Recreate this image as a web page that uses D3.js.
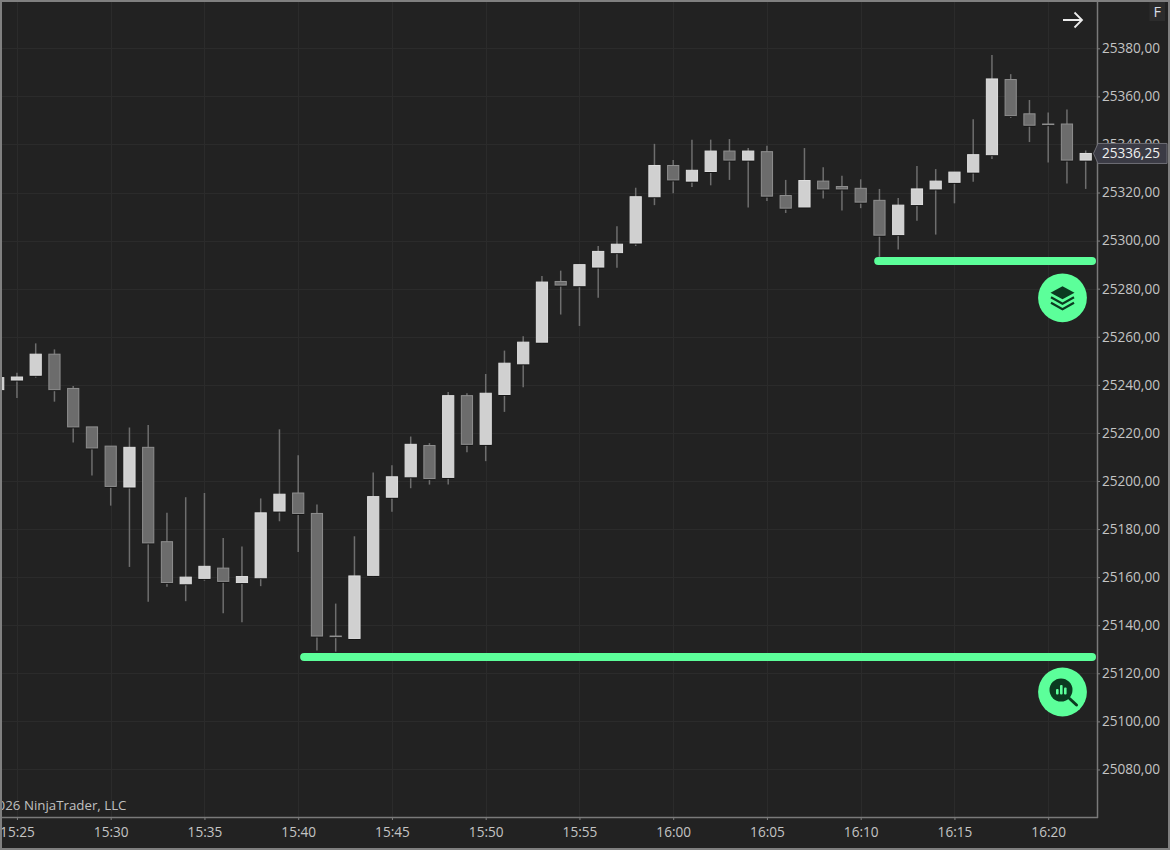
<!DOCTYPE html>
<html><head><meta charset="utf-8">
<style>html,body{margin:0;padding:0;background:#222;overflow:hidden}svg{display:block}text{font-family:"Open Sans","Noto Sans",sans-serif}</style>
<script src="https://cdn.jsdelivr.net/npm/d3@7"></script></head><body>
<script>
const times=["15:24","15:25","15:26","15:27","15:28","15:29","15:30","15:31","15:32","15:33","15:34","15:35","15:36","15:37","15:38","15:39","15:40","15:41","15:42","15:43","15:44","15:45","15:46","15:47","15:48","15:49","15:50","15:51","15:52","15:53","15:54","15:55","15:56","15:57","15:58","15:59","16:00","16:01","16:02","16:03","16:04","16:05","16:06","16:07","16:08","16:09","16:10","16:11","16:12","16:13","16:14","16:15","16:16","16:17","16:18","16:19","16:20","16:21","16:22"];
const opens=[25238,25242,25244,25252.75,25238.5,25222.5,25214.5,25197.5,25214,25174.75,25157.25,25159.5,25163.75,25157.75,25159.75,25187.5,25195,25186.5,25135.5,25134.5,25160.75,25193.25,25201.75,25214.75,25201.5,25235.5,25215.25,25236,25248.75,25257.75,25283,25281.25,25289,25295,25299,25318.25,25331.25,25324.75,25328.75,25337.25,25333.5,25337,25318.75,25314,25324.75,25322.5,25321.75,25316.75,25302.5,25315,25321.5,25324.25,25328.5,25335.75,25367,25352.75,25348.5,25348.5,25333.5];
const highs=[25244,25245,25257.25,25254.75,25239.5,25222.5,25214.5,25222.25,25223.25,25186.75,25193.25,25195,25176.25,25172.75,25192.75,25221.5,25210.75,25190.25,25149,25177,25203.5,25206.5,25218.5,25215.75,25237,25236.5,25244.5,25254.25,25260.25,25285.25,25287.5,25290,25297.75,25306,25322,25340.25,25333.5,25342,25342,25342.25,25338.5,25339.5,25325.25,25338.5,25330.5,25327,25325.5,25321.5,25317.75,25331,25329.75,25328.5,25350.5,25377.25,25369.25,25358.5,25353.25,25354.5,25337.5];
const lows=[25236,25234.5,25243,25233,25216,25202.25,25189.75,25164.25,25149.75,25156,25150,25158.5,25145,25141.25,25156.25,25183.25,25170.5,25129.5,25129,25134,25160.25,25187.25,25197,25198.5,25198.5,25212,25208.25,25228.75,25239,25257.25,25269.25,25264.5,25276.25,25288.75,25297.75,25314.75,25319.75,25322.25,25323,25325.25,25313.75,25316.5,25311.5,25314,25317.5,25312.5,25313.5,25293.25,25296.25,25308.25,25302.5,25315.5,25324.5,25334,25351,25341,25332.5,25323.75,25321.5];
const closes=[25243,25243.25,25252.75,25238,25222.5,25213.75,25197.75,25214,25174.25,25157.75,25160,25164.5,25158.25,25160.25,25186.75,25194.5,25186.5,25135.5,25135.25,25160.5,25193.5,25201.75,25215.25,25201,25235.5,25215.25,25236.5,25249,25257.75,25282.75,25281.5,25290,25295.5,25298.5,25318.25,25331.25,25325.25,25329.25,25337.25,25333.5,25337.25,25318.5,25313.5,25325,25321.5,25321.5,25316,25302.25,25314.75,25321.5,25324.75,25328.5,25335.75,25367.25,25352,25348,25348.25,25333.5,25336.25];
const priceTicks=[25080,25100,25120,25140,25160,25180,25200,25220,25240,25260,25280,25300,25320,25340,25360,25380];
const timeTicks=["15:25","15:30","15:35","15:40","15:45","15:50","15:55","16:00","16:05","16:10","16:15","16:20"];
const lastPrice=25336.25;
const levelStarts=["15:40:19","16:10:56"];
const levelPrices=[25126.75,25291.5];
const copyright="©2026 NinjaTrader, LLC";

const W=1170,H=850,axisX=1097,axisY=817;
const parse=d3.timeParse("%H:%M"), parseS=d3.timeParse("%H:%M:%S"), fmtT=d3.timeFormat("%H:%M");
const x=d3.scaleTime().domain([parse("15:40"),parse("16:20")]).range([298.2,1048.2]);
const y=d3.scaleLinear().domain([25380,25120]).range([48.3,673.3]);
const fmtP=v=>d3.format(".2f")(v).replace(".",",");

const svg=d3.select("body").append("svg").attr("width",W).attr("height",H);
svg.append("rect").attr("width",W).attr("height",H).attr("fill","#222222");
const defs=svg.append("defs");
defs.append("clipPath").attr("id","plot").append("rect").attr("x",2).attr("y",2).attr("width",axisX-2).attr("height",axisY-2);

// grid
const grid=svg.append("g").attr("clip-path","url(#plot)");
grid.selectAll(".gh").data(priceTicks).join("line").attr("x1",2).attr("x2",axisX).attr("y1",d=>Math.round(y(d))+.5).attr("y2",d=>Math.round(y(d))+.5).attr("stroke","#2b2b2b");
grid.selectAll(".gv").data(timeTicks).join("line").attr("y1",2).attr("y2",axisY).attr("x1",d=>Math.round(x(parse(d)))+.5).attr("x2",d=>Math.round(x(parse(d)))+.5).attr("stroke","#2b2b2b");

// candles
const bars=times.map((t,i)=>({t:parse(t),o:opens[i],h:highs[i],l:lows[i],c:closes[i]}));
const plot=svg.append("g").attr("clip-path","url(#plot)");
const bw=11.2;
const g=plot.selectAll("g.c").data(bars).join("g").attr("class","c");
g.append("line").attr("x1",d=>x(d.t)).attr("x2",d=>x(d.t)).attr("y1",d=>y(d.h)).attr("y2",d=>y(d.l)).attr("stroke","#6e6e6e").attr("stroke-width",1.5);
g.append("rect").attr("x",d=>x(d.t)-bw/2).attr("width",bw).attr("y",d=>y(Math.max(d.o,d.c))+1).attr("height",d=>Math.abs(y(d.o)-y(d.c))+.5).attr("fill","#151515");
g.append("rect").attr("x",d=>x(d.t)-bw/2).attr("width",bw).attr("y",d=>y(Math.max(d.o,d.c))).attr("height",d=>Math.abs(y(d.o)-y(d.c)))
 .attr("fill",d=>d.c>=d.o?"#d0d0d0":"#6c6c6c").attr("stroke",d=>d.c>=d.o?"#dedede":"#8f8f8f").attr("stroke-width",1);

// copyright
svg.append("g").attr("clip-path","url(#plot)").append("text").attr("x",126.5).attr("y",810).attr("text-anchor","end").attr("font-size",13.3).attr("fill","#c0c0c0").text(copyright);

// level lines
const green="#5cff9a";
svg.selectAll(".lvl").data(levelPrices).join("line").attr("x1",(d,i)=>x(parseS(levelStarts[i]))).attr("x2",1092).attr("y1",d=>y(d)).attr("y2",d=>y(d)).attr("stroke",green).attr("stroke-width",8).attr("stroke-linecap","round");

// badges
const dark="#0b3a20";
const b1=svg.append("g").attr("transform","translate(1062.5,297.8)");
b1.append("circle").attr("r",24.4).attr("fill",green);
b1.append("path").attr("d","M0,-11.5 L12,-5 L0,1.5 L-12,-5 Z").attr("fill",dark);
b1.append("path").attr("d","M-11.5,-0.5 L0,6 L11.5,-0.5").attr("fill","none").attr("stroke",dark).attr("stroke-width",2.2);
b1.append("path").attr("d","M-11.5,5 L0,11.5 L11.5,5").attr("fill","none").attr("stroke",dark).attr("stroke-width",2.2);
const b2=svg.append("g").attr("transform","translate(1062.5,692)");
b2.append("circle").attr("r",24.4).attr("fill",green);
b2.append("circle").attr("cx",-1.5).attr("cy",-2).attr("r",11.5).attr("fill",dark);
b2.append("line").attr("x1",7).attr("y1",6.5).attr("x2",14).attr("y2",13).attr("stroke",dark).attr("stroke-width",3).attr("stroke-linecap","round");
[[-6.5,-3,5.5],[-2.5,-7,9.5],[1.5,-4.5,7]].forEach(r=>b2.append("rect").attr("x",r[0]).attr("y",r[1]).attr("width",2.6).attr("height",r[2]).attr("rx",1).attr("fill",green));

// axes
const yAxis=d3.axisRight(y).tickValues(priceTicks).tickFormat(fmtP).tickSize(3).tickPadding(2);
const ya=svg.append("g").attr("transform",`translate(${axisX},0)`).call(yAxis);
const xAxis=d3.axisBottom(x).tickValues(timeTicks.map(parse)).tickFormat(fmtT).tickSize(3).tickPadding(7);
const xa=svg.append("g").attr("transform",`translate(0,${axisY})`).call(xAxis);
[ya,xa].forEach(a=>{a.select(".domain").remove();a.selectAll("line").attr("stroke","#808080");a.selectAll("text").attr("fill","#c4c4c4").attr("font-size",13.6).attr("font-family",'"Open Sans","Noto Sans",sans-serif')});
svg.append("line").attr("x1",axisX+.5).attr("x2",axisX+.5).attr("y1",2).attr("y2",axisY+1).attr("stroke","#7a7a7a").attr("stroke-width",1.5);
svg.append("line").attr("x1",2).attr("x2",axisX+1).attr("y1",axisY+.5).attr("y2",axisY+.5).attr("stroke","#7a7a7a").attr("stroke-width",1.5);

// last price marker
const ly=y(lastPrice);
svg.append("path").attr("d",d3.line()([[1093.5,ly],[1098,ly-10],[1167,ly-10],[1167,ly+10],[1098,ly+10]])+"Z").attr("fill","#3b3b45").attr("stroke","#6e6e76").attr("stroke-width",1);
svg.append("text").attr("x",1102).attr("y",ly+5).attr("font-size",13.6).attr("fill","#f0f0f0").text(fmtP(lastPrice));

// F button and arrow
svg.append("rect").attr("x",1149.5).attr("y",2).attr("width",15.5).attr("height",19).attr("fill","#2c2c2c");
svg.append("text").attr("x",1157.3).attr("y",16.5).attr("text-anchor","middle").attr("font-size",14.5).attr("fill","#d8dde4").text("F");
svg.append("path").attr("d","M1063,20 H1082 M1074.5,12.5 L1082,20 L1074.5,27.5").attr("fill","none").attr("stroke","#ececec").attr("stroke-width",1.8);

// outer frame
svg.append("rect").attr("x",1).attr("y",1).attr("width",W-2).attr("height",H-2).attr("fill","none").attr("stroke","#808080").attr("stroke-width",2);
</script></body></html>
